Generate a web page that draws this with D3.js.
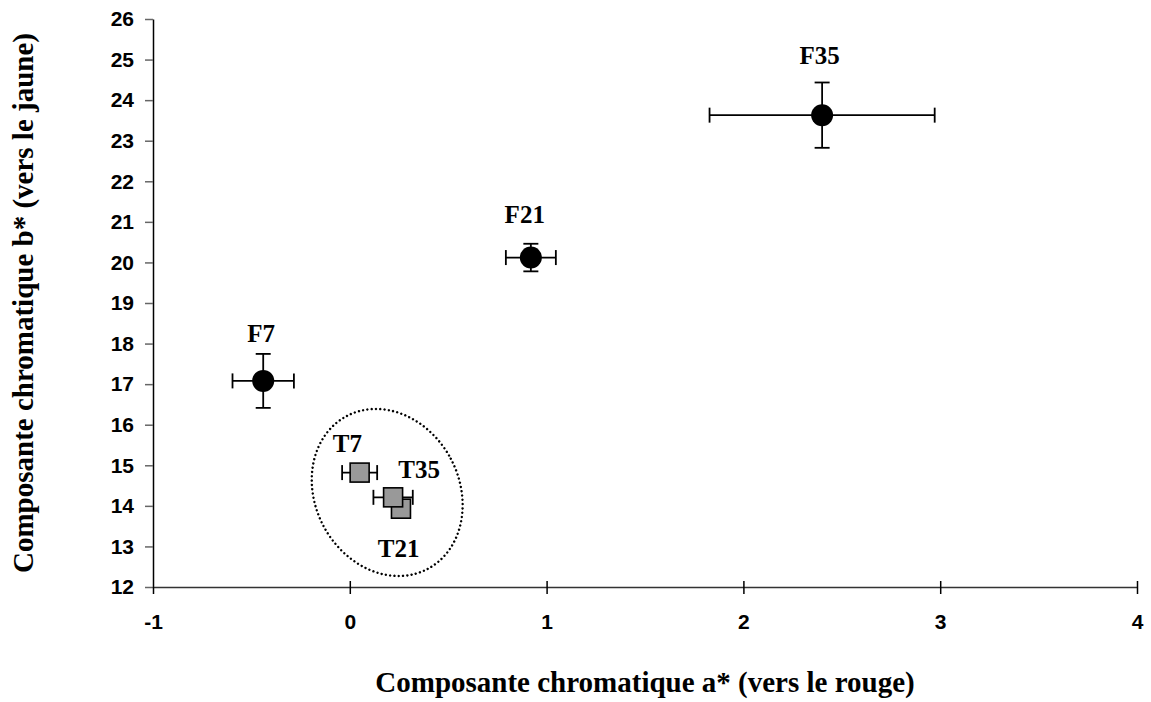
<!DOCTYPE html>
<html>
<head>
<meta charset="utf-8">
<script src="https://cdn.jsdelivr.net/npm/d3@7/dist/d3.min.js"></script>
<style>
  html, body { margin: 0; padding: 0; background: #fff; }
  svg { display: block; }
</style>
</head>
<body>
<svg id="chart" width="1151" height="702"></svg>
<script>
// ---- Data ----
const fNames = ["F7", "F21", "F35"];
const fA     = [-0.44, 0.92, 2.40];
const fB     = [17.08, 20.12, 23.63];
const fAErr  = [0.156, 0.127, 0.572];
const fBErr  = [0.665, 0.34, 0.805];
const fLabelA = [-0.45, 0.889, 2.387];
const fLabelB = [18.05, 20.96, 24.88];

const tNames = ["T7", "T21", "T35"];
const tA     = [0.05, 0.26, 0.22];
const tB     = [14.82, 13.93, 14.21];
const tAErr  = [0.089, 0.04, 0.10];
const tBErr  = [0.12, 0.12, 0.12];
const tLabelA = [-0.012, 0.248, 0.352];
const tLabelB = [15.33, 12.73, 14.68];

const xTicks = [-1, 0, 1, 2, 3, 4];
const xTickLabels = ["-1", "0", "1", "2", "3", "4"];
const yTicks = [12, 13, 14, 15, 16, 17, 18, 19, 20, 21, 22, 23, 24, 25, 26];
const xTitle = "Composante chromatique a* (vers le rouge)";
const yTitle = "Composante chromatique b* (vers le jaune)";

// grouping ellipse (data-unit centre)
const groupCenterA = 0.19;
const groupCenterB = 14.33;

// ---- Layout ----
const svg = d3.select("#chart");
const x = d3.scaleLinear().domain([-1, 4]).range([153, 1137]);
const y = d3.scaleLinear().domain([12, 26]).range([587, 19]);

// Y axis
const yAxis = svg.append("g")
  .attr("transform", `translate(${x(-1)},0)`)
  .call(d3.axisLeft(y).tickValues(yTicks).tickFormat(d3.format("d")).tickSizeInner(8).tickSizeOuter(0).tickPadding(11));
yAxis.select(".domain").attr("stroke", "#000").attr("stroke-width", 1.5);
yAxis.selectAll(".tick line").attr("stroke", "#666").attr("stroke-width", 1.5);
yAxis.selectAll(".tick text")
  .attr("font-family", "'Liberation Sans', Arial, sans-serif")
  .attr("font-weight", "bold").attr("font-size", 21).attr("fill", "#000");

// X axis
const xAxis = svg.append("g")
  .attr("transform", `translate(0,${y(12)})`)
  .call(d3.axisBottom(x).tickValues(xTicks).tickFormat((d, i) => xTickLabels[i]).tickSizeInner(7).tickSizeOuter(0).tickPadding(20));
xAxis.select(".domain").attr("stroke", "#333").attr("stroke-width", 1.5);
xAxis.selectAll(".tick line").attr("y1", -6).attr("y2", 7).attr("stroke", "#000").attr("stroke-width", 1.5);
xAxis.selectAll(".tick text")
  .attr("font-family", "'Liberation Sans', Arial, sans-serif")
  .attr("font-weight", "bold").attr("font-size", 21).attr("fill", "#000");
xAxis.selectAll(".tick").filter(d => d === -1).select("line").attr("y1", 0);

// Axis titles
svg.append("text")
  .attr("x", (x(-1) + x(4)) / 2).attr("y", 692)
  .attr("text-anchor", "middle")
  .attr("font-family", "'Liberation Serif', 'Times New Roman', serif")
  .attr("font-weight", "bold").attr("font-size", 29)
  .text(xTitle);
svg.append("text")
  .attr("transform", `translate(33,${(y(12) + y(26)) / 2}) rotate(-90)`)
  .attr("text-anchor", "middle")
  .attr("font-family", "'Liberation Serif', 'Times New Roman', serif")
  .attr("font-weight", "bold").attr("font-size", 29)
  .text(yTitle);

// Grouping ellipse
svg.append("ellipse")
  .attr("transform", `translate(${x(groupCenterA)},${y(groupCenterB)}) rotate(-28)`)
  .attr("rx", 72).attr("ry", 86.5)
  .attr("fill", "none").attr("stroke", "#000").attr("stroke-width", 2.4)
  .attr("stroke-dasharray", "0 4.3").attr("stroke-linecap", "round");

// Error bar helper
const cap = 7.5;
function errorBars(g, a, b, ea, eb) {
  const eg = g.append("g").attr("stroke", "#000").attr("stroke-width", 1.8).attr("fill", "none");
  a.forEach((av, i) => {
    const cx = x(av), cy = y(b[i]);
    const x0 = x(av - ea[i]), x1 = x(av + ea[i]);
    const y0 = y(b[i] - eb[i]), y1 = y(b[i] + eb[i]);
    eg.append("line").attr("x1", x0).attr("x2", x1).attr("y1", cy).attr("y2", cy);
    eg.append("line").attr("x1", x0).attr("x2", x0).attr("y1", cy - cap).attr("y2", cy + cap);
    eg.append("line").attr("x1", x1).attr("x2", x1).attr("y1", cy - cap).attr("y2", cy + cap);
    eg.append("line").attr("x1", cx).attr("x2", cx).attr("y1", y0).attr("y2", y1);
    eg.append("line").attr("x1", cx - cap).attr("x2", cx + cap).attr("y1", y0).attr("y2", y0);
    eg.append("line").attr("x1", cx - cap).attr("x2", cx + cap).attr("y1", y1).attr("y2", y1);
  });
}

const marks = svg.append("g");
errorBars(marks, tA, tB, tAErr, tBErr);
errorBars(marks, fA, fB, fAErr, fBErr);

// T squares
const sq = 19;
marks.selectAll("rect.t").data(tA).enter().append("rect")
  .attr("x", (d) => x(d) - sq / 2)
  .attr("y", (d, i) => y(tB[i]) - sq / 2)
  .attr("width", sq).attr("height", sq)
  .attr("fill", "#999").attr("stroke", "#000").attr("stroke-width", 1.6);

// F circles
marks.selectAll("circle.f").data(fA).enter().append("circle")
  .attr("cx", (d) => x(d))
  .attr("cy", (d, i) => y(fB[i]))
  .attr("r", 11).attr("fill", "#000");

// Labels
const lab = svg.append("g")
  .attr("font-family", "'Liberation Serif', 'Times New Roman', serif")
  .attr("font-weight", "bold").attr("font-size", 25)
  .attr("text-anchor", "middle");
fNames.forEach((n, i) => lab.append("text").attr("x", x(fLabelA[i])).attr("y", y(fLabelB[i])).text(n));
tNames.forEach((n, i) => lab.append("text").attr("x", x(tLabelA[i])).attr("y", y(tLabelB[i])).text(n));
</script>
</body>
</html>
